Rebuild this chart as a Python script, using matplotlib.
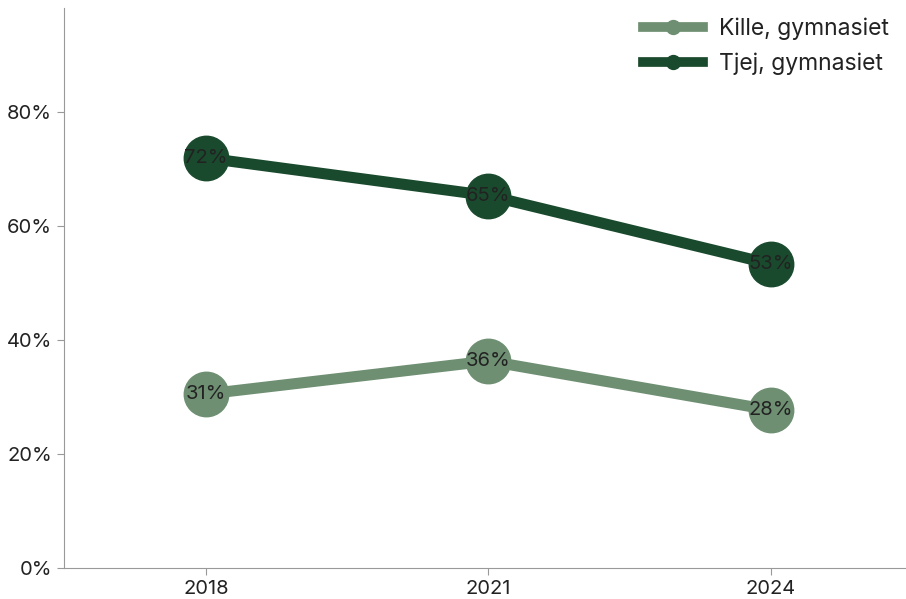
import matplotlib
matplotlib.use("Agg")
import matplotlib.pyplot as plt
from matplotlib.ticker import FuncFormatter
from matplotlib.lines import Line2D

years = ["2018", "2021", "2024"]
kille = [30.5, 36.3, 27.7]
tjej = [71.9, 65.3, 53.3]
kille_labels = ["31%", "36%", "28%"]
tjej_labels = ["72%", "65%", "53%"]

plt.rcParams['font.family'] = ['Inter', 'DejaVu Sans']

fig = plt.figure(figsize=(9.06, 5.99), dpi=100)
ax = fig.add_axes([64/906, 1-568/599, (905-64)/906, (568-8)/599])

c_k = "#6e8f72"
c_t = "#1a4a2d"
x = list(range(len(years)))
ax.plot(x, kille, color=c_k, lw=8, marker="o", ms=32, label="Kille, gymnasiet", solid_capstyle="butt")
ax.plot(x, tjej, color=c_t, lw=8, marker="o", ms=32, label="Tjej, gymnasiet", solid_capstyle="butt")
for xi, v, l in zip(x, kille, kille_labels):
    ax.text(xi, v, l, ha="center", va="center", fontsize=14.5, color="#222222")
for xi, v, l in zip(x, tjej, tjej_labels):
    ax.text(xi, v, l, ha="center", va="center", fontsize=14.5, color="#222222")

ax.set_xlim(-0.503, 2.475)
ax.set_ylim(0, 98.2)
ax.set_xticks(x)
ax.set_xticklabels(years)
ax.set_yticks([0, 20, 40, 60, 80])
ax.yaxis.set_major_formatter(FuncFormatter(lambda v, p: f"{v:.0f}%"))
ax.tick_params(labelsize=14.5, colors="#222222", length=5, color="#999999")
for s in ["top", "right"]:
    ax.spines[s].set_visible(False)
for s in ["left", "bottom"]:
    ax.spines[s].set_color("#999999")

handles = [Line2D([], [], color=c_k, lw=7, marker="o", ms=10),
           Line2D([], [], color=c_t, lw=7, marker="o", ms=10)]
leg = ax.legend(handles, ["Kille, gymnasiet", "Tjej, gymnasiet"], loc="upper right",
                frameon=False, fontsize=16.5, handlelength=2.6, handletextpad=0.7,
                bbox_to_anchor=(1.0, 1.012), labelspacing=0.55, borderaxespad=0.3)
for t in leg.get_texts():
    t.set_color("#222222")

fig.savefig("out.png", dpi=100)
